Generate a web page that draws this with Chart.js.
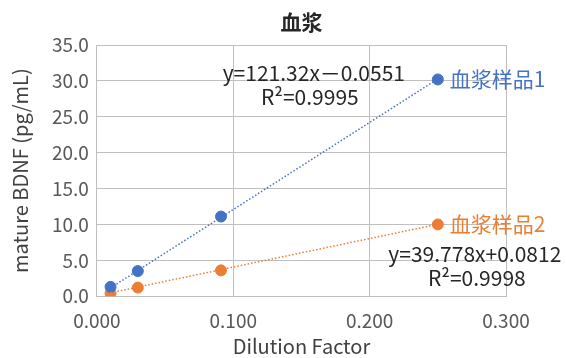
<!DOCTYPE html>
<html>
<head>
<meta charset="utf-8">
<script src="https://cdn.jsdelivr.net/npm/chart.js@4/dist/chart.umd.min.js"></script>
<style>
  html, body { margin: 0; padding: 0; background: #fff; }
  #wrap { width: 566px; height: 358px; }
</style>
</head>
<body>
<div id="wrap"><canvas id="plasmaChart"></canvas></div>
<script>
const chartTitle = '血浆';
const dilution = [0.010, 0.030, 0.091, 0.250];
const sample1 = [1.3, 3.5, 11.1, 30.2];
const sample2 = [0.4, 1.2, 3.6, 10.0];
const seriesNames = ['血浆样品1', '血浆样品2'];
const slopes = [121.32, 39.778];
const intercepts = [-0.0551, 0.0812];
const equations = ['y=121.32x－0.0551', 'y=39.778x+0.0812'];
const rSquared = ['R²=0.9995', 'R²=0.9998'];

const blue = '#4472C4';
const orange = '#ED7D31';
const font = '"Noto Sans CJK SC", "Noto Sans", sans-serif';

function pts(xs, ys) {
  return xs.map((x, i) => ({ x: x, y: ys[i] }));
}
function trend(i) {
  const a = dilution[0], b = dilution[dilution.length - 1];
  return [{ x: a, y: slopes[i] * a + intercepts[i] }, { x: b, y: slopes[i] * b + intercepts[i] }];
}

// title over the plot area, series names + trendline equations next to the last point
const labelPlugin = {
  id: 'labels',
  afterDatasetsDraw(chart) {
    const c = chart.ctx;
    const area = chart.chartArea;
    const xs = chart.scales.x, ys = chart.scales.y;
    const last = dilution.length - 1;
    const px = xs.getPixelForValue(dilution[last]);
    const p1 = ys.getPixelForValue(sample1[last]);
    const p2 = ys.getPixelForValue(sample2[last]);
    c.save();
    c.textBaseline = 'middle';
    c.textAlign = 'center';
    c.fillStyle = '#262626';
    c.font = 'bold 21px ' + font;
    c.fillText(chartTitle, (area.left + area.right) / 2, area.top - 23);

    c.font = '21px ' + font;
    c.textAlign = 'left';
    c.fillStyle = blue;
    c.fillText(seriesNames[0], px + 12, p1);
    c.fillStyle = orange;
    c.fillText(seriesNames[1], px + 12, p2);

    c.fillStyle = '#262626';
    c.textAlign = 'center';
    c.fillText(equations[0], px - 124, p1 - 6);
    c.fillText(rSquared[0], px - 128, p1 + 18);
    c.fillText(equations[1], px + 37, p2 + 30);
    c.fillText(rSquared[1], px + 39, p2 + 54);
    c.restore();
  }
};

const chart = new Chart(document.getElementById('plasmaChart'), {
  type: 'scatter',
  data: {
    datasets: [
      {
        label: seriesNames[0] + ' trend',
        data: trend(0),
        showLine: true,
        borderColor: blue,
        borderWidth: 1.5,
        borderDash: [1.5, 2],
        pointRadius: 0
      },
      {
        label: seriesNames[1] + ' trend',
        data: trend(1),
        showLine: true,
        borderColor: orange,
        borderWidth: 1.5,
        borderDash: [1.5, 2],
        pointRadius: 0
      },
      {
        label: seriesNames[0],
        data: pts(dilution, sample1),
        backgroundColor: blue,
        borderColor: blue,
        pointRadius: 5.5
      },
      {
        label: seriesNames[1],
        data: pts(dilution, sample2),
        backgroundColor: orange,
        borderColor: orange,
        pointRadius: 5.5
      }
    ]
  },
  options: {
    responsive: true,
    maintainAspectRatio: false,
    animation: false,
    layout: { padding: { left: 8, right: 60, top: 45, bottom: 0 } },
    plugins: {
      legend: { display: false },
      tooltip: { enabled: false },
      title: { display: false }
    },
    scales: {
      x: {
        type: 'linear',
        min: 0,
        max: 0.3,
        ticks: {
          stepSize: 0.1,
          color: '#595959',
          font: { family: font, size: 19 },
          padding: 13,
          callback: v => v.toFixed(3)
        },
        grid: { color: '#BFBFBF', drawTicks: false },
        border: { color: '#BFBFBF' },
        title: {
          display: true,
          text: 'Dilution Factor',
          color: '#404040',
          font: { family: font, size: 20 },
          padding: { top: -11, bottom: 0 }
        }
      },
      y: {
        min: 0,
        max: 35,
        ticks: {
          stepSize: 5,
          color: '#595959',
          font: { family: font, size: 19 },
          padding: 8,
          callback: v => v.toFixed(1)
        },
        grid: { color: '#BFBFBF', drawTicks: false },
        border: { color: '#BFBFBF' },
        title: {
          display: true,
          text: 'mature BDNF (pg/mL)',
          color: '#404040',
          font: { family: font, size: 20 },
          padding: { top: 0, bottom: 12 }
        }
      }
    }
  },
  plugins: [labelPlugin]
});
</script>
</body>
</html>
